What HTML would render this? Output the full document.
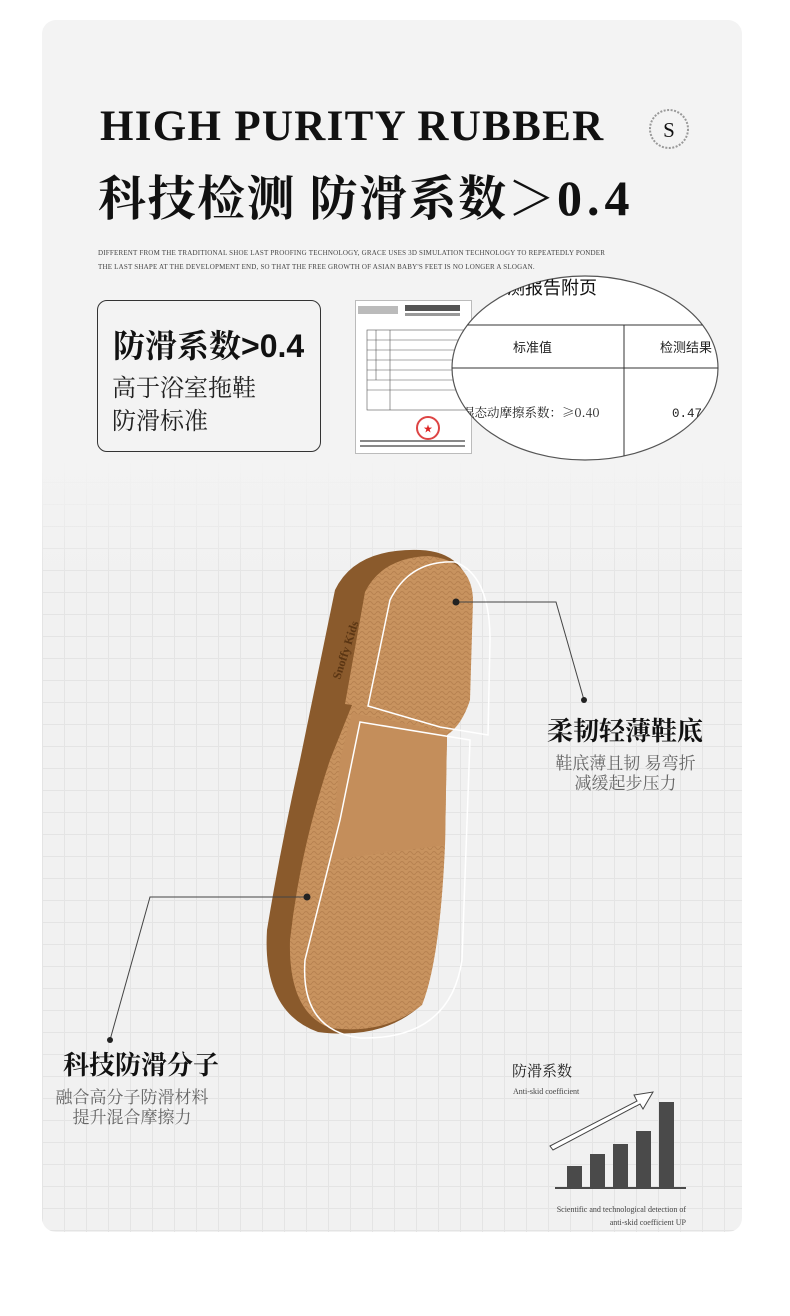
<!DOCTYPE html>
<html><head><meta charset="utf-8"><style>
body{margin:0;width:790px;height:1316px;background:#fff;position:relative;overflow:hidden;font-family:"Liberation Serif","Noto Serif CJK SC",serif;}
.card{position:absolute;left:42px;top:20px;width:700px;height:1212px;border-radius:14px;background:#f3f3f3;overflow:hidden;
background-image:linear-gradient(to bottom,#f3f3f3 0,#f3f3f3 440px,rgba(243,243,243,0) 560px),linear-gradient(#e4e4e4 1px,transparent 1px),linear-gradient(90deg,#e4e4e4 1px,transparent 1px);
background-size:100% 100%,22px 22px,22px 22px;background-color:#f1f1f1;}
.abs{position:absolute;}
.t1{left:100px;top:102px;font-size:43px;letter-spacing:1.3px;color:#111;white-space:nowrap;font-weight:bold;}
.t2{left:98px;top:160px;font-size:48px;font-weight:bold;color:#111;white-space:nowrap;font-family:"Noto Serif CJK SC","Noto Sans CJK SC",serif;letter-spacing:1.5px}
.small{left:98px;font-size:7px;color:#444;white-space:nowrap;letter-spacing:0.2px}
.box{left:97px;top:300px;width:224px;height:152px;border:1.5px solid #333;border-radius:10px;box-sizing:border-box;}
</style></head><body>
<div class="card"></div>
<div class="abs t1">HIGH PURITY RUBBER</div>
<div class="abs t2">科技检测 防滑系数＞<span style="font-family:'Liberation Serif',serif;font-size:50px;letter-spacing:5px">0.4</span></div>
<div class="abs small" style="top:249px">DIFFERENT FROM THE TRADITIONAL SHOE LAST PROOFING TECHNOLOGY, GRACE USES 3D SIMULATION TECHNOLOGY TO REPEATEDLY PONDER</div>
<div class="abs small" style="top:263px">THE LAST SHAPE AT THE DEVELOPMENT END, SO THAT THE FREE GROWTH OF ASIAN BABY'S FEET IS NO LONGER A SLOGAN.</div>
<div class="abs box"></div>
<div class="abs" style="left:113px;top:321px;font-size:32px;font-weight:bold;color:#111;white-space:nowrap;font-family:'Noto Serif CJK SC',serif">防滑系数<span style="font-family:'Liberation Sans',sans-serif;font-size:32px">&gt;0.4</span></div>
<div class="abs" style="left:112px;top:369px;font-size:24px;line-height:33px;color:#222;font-family:'Noto Serif CJK SC',serif">高于浴室拖鞋<br>防滑标准</div>
<div class="abs" style="left:355px;top:300px;width:115px;height:152px;background:#fff;border:1px solid #bbb;"></div>
<svg class="abs" style="left:0;top:0" width="790" height="1316">
<g stroke="#555" stroke-width="0.6" fill="none">
<rect x="367" y="330" width="100" height="80"/>
<line x1="367" y1="340" x2="467" y2="340"/><line x1="367" y1="350" x2="467" y2="350"/><line x1="367" y1="360" x2="467" y2="360"/><line x1="367" y1="370" x2="467" y2="370"/><line x1="367" y1="380" x2="467" y2="380"/><line x1="367" y1="390" x2="467" y2="390"/>
<line x1="376" y1="330" x2="376" y2="380"/><line x1="390" y1="330" x2="390" y2="410"/>
</g>
<rect x="358" y="306" width="40" height="8" fill="#bbb"/><rect x="405" y="305" width="55" height="6" fill="#555"/><rect x="405" y="313" width="55" height="3" fill="#999"/>
<rect x="360" y="440" width="105" height="2" fill="#888"/><rect x="360" y="445" width="105" height="2" fill="#888"/>
<circle cx="428" cy="428" r="11" fill="none" stroke="#d44" stroke-width="2"/><text x="428" y="432" text-anchor="middle" font-size="9" fill="#d22">★</text>
<ellipse cx="585" cy="368" rx="133" ry="92" fill="#fff" stroke="#555" stroke-width="1.2"/>
<clipPath id="cp"><ellipse cx="585" cy="368" rx="133" ry="92"/></clipPath>
<g clip-path="url(#cp)">
<line x1="440" y1="325" x2="730" y2="325" stroke="#333"/><line x1="440" y1="368" x2="730" y2="368" stroke="#333"/>
<line x1="624" y1="325" x2="624" y2="470" stroke="#333"/>
<text x="507" y="294" font-size="18" font-family="Noto Sans CJK SC,sans-serif" fill="#111">测报告附页</text>
<text x="513" y="352" font-size="13" font-family="Noto Sans CJK SC,sans-serif" fill="#222">标准值</text>
<text x="660" y="352" font-size="13" font-family="Noto Sans CJK SC,sans-serif" fill="#222">检测结果</text>
<text x="462" y="417" font-size="12.5" font-family="Noto Serif CJK SC,serif" fill="#222">湿态动摩擦系数：≥0.40</text>
<text x="672" y="417" font-size="12.5" font-family="Liberation Mono,monospace" fill="#222">0.47</text>
</g>
<circle cx="669" cy="129" r="19" fill="none" stroke="#999" stroke-width="2" stroke-dasharray="2 1.5"/>
<text x="669" y="137" text-anchor="middle" font-size="21" fill="#111" font-family="Liberation Serif,serif">S</text>
<defs><pattern id="wv" width="8" height="5" patternUnits="userSpaceOnUse"><path d="M0 3 Q2 0 4 3 T8 3" fill="none" stroke="#a87344" stroke-width="1"/></pattern></defs>
<path d="M420 550 Q468 552 472 600 L470 690 Q455 715 447 735 L444 840 Q440 960 418 1008 Q380 1040 318 1032 Q262 1012 267 930 Q280 850 300 760 L335 590 Q355 548 420 550Z" fill="#8a5a2c"/>
<path d="M428 556 Q472 560 473 600 L470 700 Q462 725 447 735 L445 845 Q440 960 422 1005 Q385 1035 330 1028 Q288 1012 290 940 Q300 850 330 760 L352 705 L345 704 L365 592 Q382 558 428 556Z" fill="#c8935f"/>
<path d="M428 556 Q472 560 473 600 L470 700 Q462 725 447 735 L445 845 Q440 960 422 1005 Q385 1035 330 1028 Q288 1012 290 940 Q300 850 330 760 L352 705 L345 704 L365 592 Q382 558 428 556Z" fill="url(#wv)" opacity="0.55"/>
<path d="M352 713 L447 732 L445 845 L330 860 L340 760Z" fill="#c48e5b"/>
<path d="M455 562 Q490 575 490 640 L488 735 L440 727 L368 706 L390 600 Q410 560 455 562Z" fill="none" stroke="#fff" stroke-width="1.5"/>
<path d="M360 722 L470 740 L462 960 Q450 1040 360 1038 Q300 1030 305 960 L340 820Z" fill="none" stroke="#fff" stroke-width="1.5"/>
<text x="0" y="0" font-size="12" fill="#5a3513" font-weight="bold" transform="translate(340,680) rotate(-72)">Snoffy Kids</text>
<g stroke="#444" stroke-width="1" fill="none">
<polyline points="456,602 556,602 584,700"/>
<polyline points="307,897 150,897 110,1040"/>
</g>
<circle cx="456" cy="602" r="3.5" fill="#222"/><circle cx="307" cy="897" r="3.5" fill="#222"/>
<circle cx="584" cy="700" r="3" fill="#222"/><circle cx="110" cy="1040" r="3" fill="#222"/>
<g fill="#4a4a4a">
<rect x="567" y="1166" width="15" height="22"/><rect x="590" y="1154" width="15" height="34"/><rect x="613" y="1144" width="15" height="44"/><rect x="636" y="1131" width="15" height="57"/><rect x="659" y="1102" width="15" height="86"/>
<rect x="555" y="1187" width="131" height="2"/>
</g>
<path d="M550 1146 L637 1101 L634 1095 L653 1092 L643 1109 L640 1104 L553 1150Z" fill="#fff" stroke="#444" stroke-width="1"/>
</svg>
<div class="abs" style="left:547px;top:711px;font-size:26px;font-weight:bold;color:#111;font-family:'Noto Serif CJK SC',serif;white-space:nowrap">柔韧轻薄鞋底</div>
<div class="abs" style="left:548px;top:752px;font-size:17px;line-height:20px;color:#666;text-align:center;width:155px;font-family:'Noto Serif CJK SC',serif">鞋底薄且韧 易弯折<br>减缓起步压力</div>
<div class="abs" style="left:63px;top:1045px;font-size:26px;font-weight:bold;color:#111;font-family:'Noto Serif CJK SC',serif;white-space:nowrap">科技防滑分子</div>
<div class="abs" style="left:46px;top:1086px;font-size:17px;line-height:20px;color:#666;text-align:center;width:172px;font-family:'Noto Serif CJK SC',serif">融合高分子防滑材料<br>提升混合摩擦力</div>
<div class="abs" style="left:512px;top:1060px;font-size:15px;color:#222;font-family:'Noto Serif CJK SC',serif">防滑系数</div>
<div class="abs" style="left:513px;top:1087px;font-size:8px;color:#444">Anti-skid coefficient</div>
<div class="abs" style="left:480px;top:1203px;width:206px;text-align:right;font-size:8px;line-height:13px;color:#444">Scientific and technological detection of<br>anti-skid coefficient UP</div>
</body></html>
